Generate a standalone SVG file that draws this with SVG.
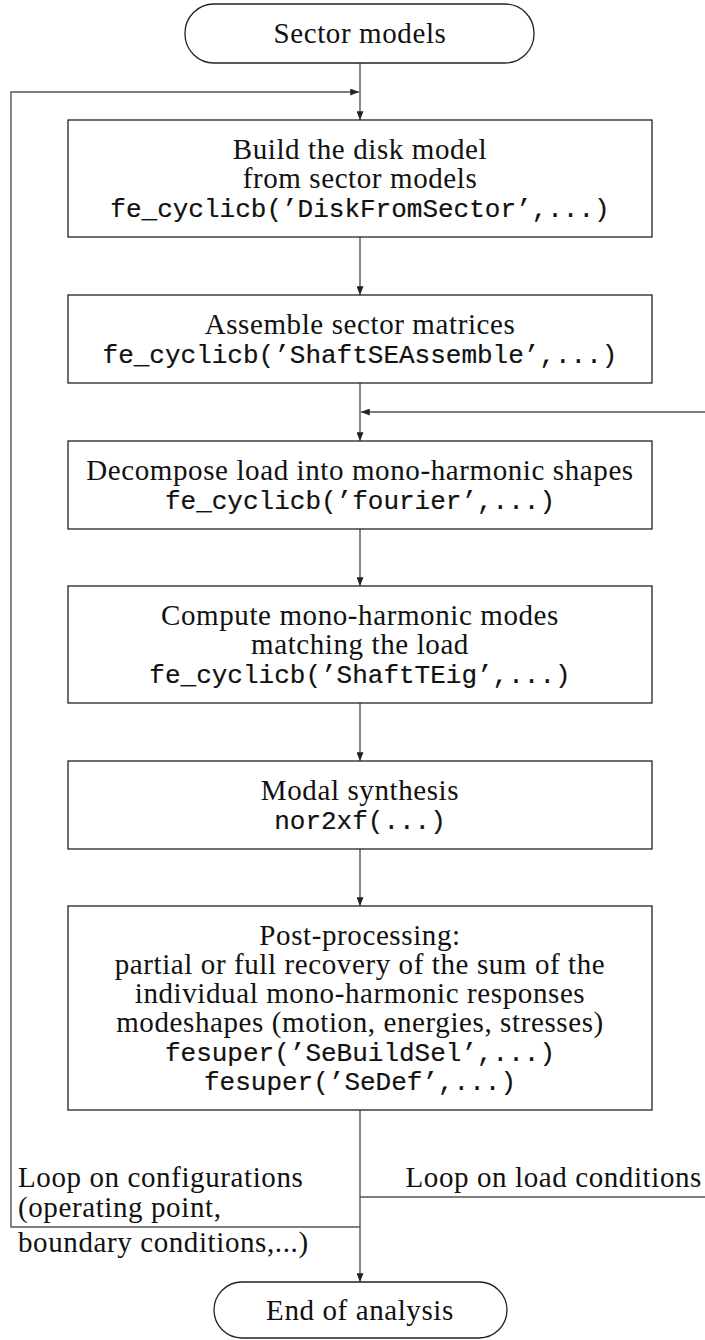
<svg xmlns="http://www.w3.org/2000/svg" width="705" height="1340" viewBox="0 0 705 1340">
<style>
.box{fill:#fff;stroke:#222;stroke-width:1.3}
.term{fill:#fff;stroke:#222;stroke-width:1.3}
.con{fill:none;stroke:#555;stroke-width:1.4}
.t{font-family:"Liberation Serif",serif;font-size:29px;letter-spacing:0.6px;fill:#111;text-anchor:middle}
.tl{font-family:"Liberation Serif",serif;font-size:29px;letter-spacing:0.6px;fill:#111}
.m{font-family:"Liberation Mono",monospace;font-size:26px;fill:#111;stroke:#111;stroke-width:0.2;text-anchor:middle}
</style>
<defs>
<marker id="ah" viewBox="0 0 10 8" refX="10" refY="4" markerWidth="9" markerHeight="7" markerUnits="userSpaceOnUse" orient="auto">
<path d="M0,0 L10,4 L0,8 Z" fill="#222"/>
</marker>
</defs>
<rect width="705" height="1340" fill="#fff"/>
<g id="connectors">
<line class="con" x1="360" y1="63" x2="360" y2="120" marker-end="url(#ah)"/>
<polyline class="con" points="360,1227 11,1227 11,92 359,92" marker-end="url(#ah)"/>
<line class="con" x1="360" y1="237" x2="360" y2="295" marker-end="url(#ah)"/>
<line class="con" x1="360" y1="383" x2="360" y2="441" marker-end="url(#ah)"/>
<line class="con" x1="705" y1="412" x2="361" y2="412" marker-end="url(#ah)"/>
<line class="con" x1="360" y1="529" x2="360" y2="586" marker-end="url(#ah)"/>
<line class="con" x1="360" y1="703" x2="360" y2="761" marker-end="url(#ah)"/>
<line class="con" x1="360" y1="849" x2="360" y2="906" marker-end="url(#ah)"/>
<line class="con" x1="360" y1="1110" x2="360" y2="1282" marker-end="url(#ah)"/>
<line class="con" x1="360" y1="1197" x2="705" y2="1197"/>
<text class="tl" x="18" y="1187">Loop on configurations</text>
<text class="tl" x="18" y="1217">(operating point,</text>
<text class="tl" x="18" y="1252">boundary conditions,...)</text>
<text class="tl" x="702" y="1187" text-anchor="end">Loop on load conditions</text>
</g>
<g id="start">
<rect class="term" x="185" y="4" width="349" height="59" rx="29" ry="29"/>
<text class="t" x="360" y="43">Sector models</text>
</g>
<g id="build">
<rect class="box" x="68" y="120" width="584" height="117"/>
<text class="t" x="360" y="158.5">Build the disk model</text>
<text class="t" x="360" y="187.5">from sector models</text>
<text class="m" x="360" y="216.5">fe_cyclicb(’DiskFromSector’,...)</text>
</g>
<g id="assemble">
<rect class="box" x="68" y="295" width="584" height="88"/>
<text class="t" x="360" y="333.5">Assemble sector matrices</text>
<text class="m" x="360" y="362.5">fe_cyclicb(’ShaftSEAssemble’,...)</text>
</g>
<g id="decompose">
<rect class="box" x="68" y="441" width="584" height="88"/>
<text class="t" x="360" y="479.5">Decompose load into mono-harmonic shapes</text>
<text class="m" x="360" y="508.5">fe_cyclicb(’fourier’,...)</text>
</g>
<g id="modes">
<rect class="box" x="68" y="586" width="584" height="117"/>
<text class="t" x="360" y="624.5">Compute mono-harmonic modes</text>
<text class="t" x="360" y="653.5">matching the load</text>
<text class="m" x="360" y="682.5">fe_cyclicb(’ShaftTEig’,...)</text>
</g>
<g id="synthesis">
<rect class="box" x="68" y="761" width="584" height="88"/>
<text class="t" x="360" y="799.5">Modal synthesis</text>
<text class="m" x="360" y="828.5">nor2xf(...)</text>
</g>
<g id="post">
<rect class="box" x="68" y="906" width="584" height="204"/>
<text class="t" x="360" y="944.5">Post-processing:</text>
<text class="t" x="360" y="973.5">partial or full recovery of the sum of the</text>
<text class="t" x="360" y="1002.5">individual mono-harmonic responses</text>
<text class="t" x="360" y="1031.5">modeshapes (motion, energies, stresses)</text>
<text class="m" x="360" y="1060.5">fesuper(’SeBuildSel’,...)</text>
<text class="m" x="360" y="1089.5">fesuper(’SeDef’,...)</text>
</g>
<g id="end">
<rect class="term" x="214" y="1282" width="293" height="56" rx="28" ry="28"/>
<text class="t" x="360" y="1320">End of analysis</text>
</g>
</svg>
